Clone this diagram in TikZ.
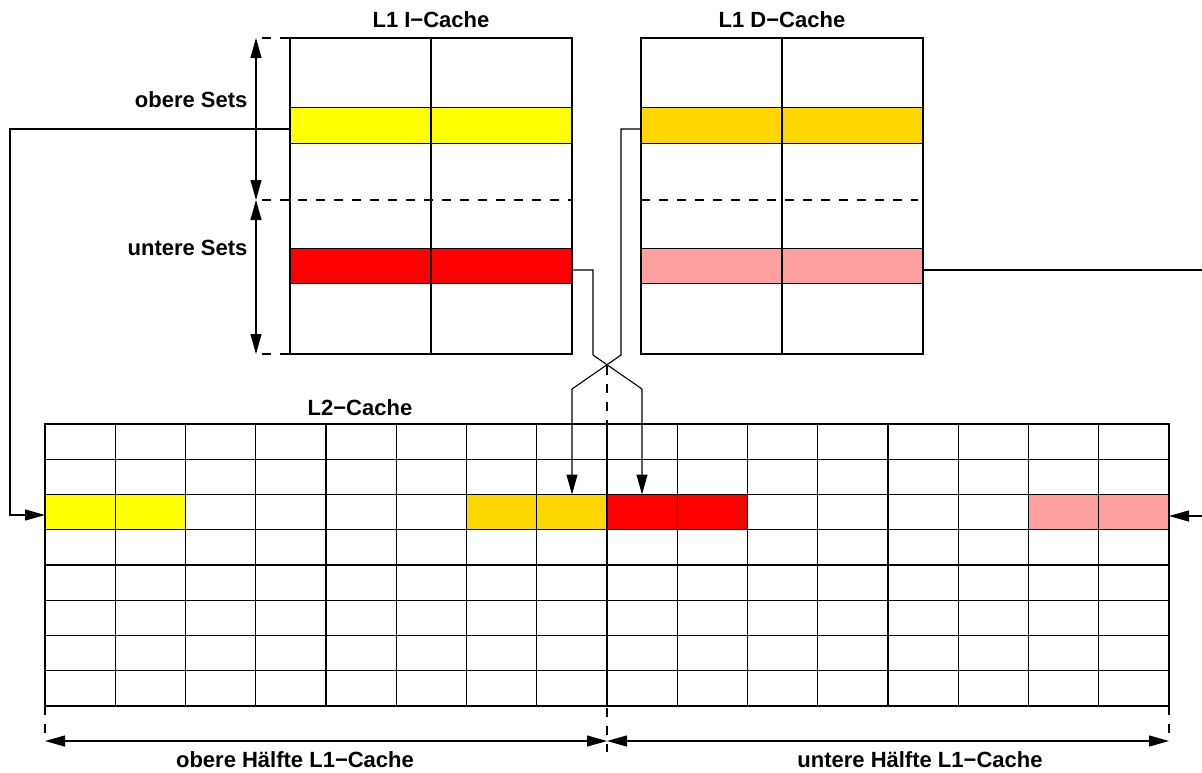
\documentclass[tikz,border=0pt]{standalone}
\usepackage{fontspec}
\setmainfont{Liberation Sans}
\usetikzlibrary{arrows.meta}
\definecolor{cyellow}{RGB}{255,255,0}
\definecolor{cgold}{RGB}{255,215,0}
\definecolor{cred}{RGB}{255,0,0}
\definecolor{cpink}{RGB}{255,160,160}

\begin{document}
\begin{tikzpicture}[x=1pt,y=-1pt,line width=1.1pt,
  lbl/.style={font=\fontsize{22}{26}\selectfont\bfseries,inner sep=0pt},
  l1row/.style={draw,minimum width=282pt,minimum height=35.5pt,inner sep=0pt,outer sep=0pt},
  l2cell/.style={draw,minimum width=140.5pt,minimum height=35.25pt,inner sep=0pt,outer sep=0pt},
  tip/.style={-{Triangle[length=20pt,width=11pt]}},
  tips/.style={{Triangle[length=20pt,width=11pt]}-{Triangle[length=20pt,width=11pt]}},
  guide/.style={dash pattern=on 9pt off 9pt}]
\useasboundingbox (0,0) rectangle (1202,772);

% --- L1 instruction cache ---
\node[l1row,fill=cyellow] (iy) at (431,125.5) {};
\node[l1row,fill=cred] (ir) at (431,266) {};
\draw (290,38) rectangle (572,354);
\draw (431,38) -- (431,354);
\node[lbl] (ititle) at (431,20) {L1 I−Cache};

% --- L1 data cache ---
\node[l1row,fill=cgold] (dg) at (782,125.5) {};
\node[l1row,fill=cpink] (dp) at (782,266) {};
\draw (641,38) rectangle (923,354);
\draw (782,38) -- (782,354);
\node[lbl] (dtitle) at (782,20) {L1 D−Cache};

% split between upper and lower sets
\draw[guide] (262,38) -- (290,38);
\draw[guide] (262,354) -- (290,354);
\draw[guide] (262,200) -- (572,200);
\draw[guide] (641,200) -- (918,200);
\coordinate (s1) at (256,38);
\coordinate (s2) at (256,200);
\coordinate (s3) at (256,354);
\draw[tips] (s1) -- (s2);
\draw[tips] (s2) -- (s3);
\node[lbl,anchor=east] (upper) at (248,100) {obere Sets};
\node[lbl,anchor=east] (lower) at (248,248) {untere Sets};

% --- L2 cache ---
\node[l2cell,fill=cyellow] (l2y) at (115.25,512.125) {};
\node[l2cell,fill=cgold] (l2g) at (536.75,512.125) {};
\node[l2cell,fill=cred] (l2r) at (677.25,512.125) {};
\node[l2cell,fill=cpink] (l2p) at (1098.75,512.125) {};
\draw (45,424) rectangle (1169,706);
\foreach \i in {1,...,15} \draw ({45+\i*70.25},424) -- ({45+\i*70.25},706);
\foreach \j in {1,...,7} \draw (45,{424+\j*35.25}) -- (1169,{424+\j*35.25});
\node[lbl] (l2title) at (360,408) {L2−Cache};

% --- mapping connectors ---
\draw[tip] (iy.west |- 0,129) -- (10,129) -- (10,515) -- (l2y.west |- 0,515);
\draw[tip] (ir.east |- 0,270) -- (593,270) -- (593,355) -- (642,389) -- (l2r.north -| 642,0);
\draw[tip] (dg.west |- 0,129) -- (621,129) -- (621,355) -- (572,389) -- (l2g.north -| 572,0);
\coordinate (pinkout) at (1202,270);
\coordinate (pinkin) at (1202,516);
\draw (dp.east |- 0,270) -- (pinkout);
\draw[tip] (pinkin) -- (l2p.east |- 0,516);

% --- halves of the L2 cache ---
\draw[guide] (45,706) -- (45,735);
\draw[guide] (1169,706) -- (1169,735);
\draw[guide] (607,366) -- (607,752);
\coordinate (h1) at (45,741);
\coordinate (h2) at (607,741);
\coordinate (h3) at (1169,741);
\draw[tips] (h1) -- (h2);
\draw[tips] (h2) -- (h3);
\node[lbl] (hupper) at (295,760) {obere Hälfte L1−Cache};
\node[lbl] (hlower) at (920,760) {untere Hälfte L1−Cache};
\end{tikzpicture}
\end{document}
